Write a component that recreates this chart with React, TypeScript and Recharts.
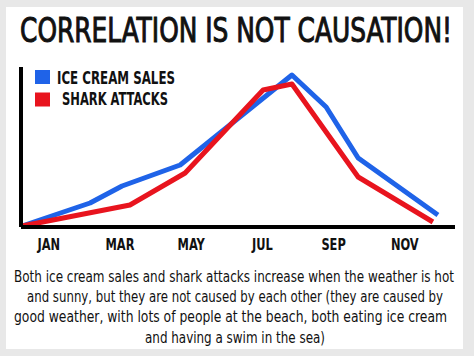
import React from 'react';
import { LineChart, Line, XAxis, YAxis, Legend } from 'recharts';

const monthNames = ['JAN', 'FEB', 'MAR', 'APR', 'MAY', 'JUN', 'JUL', 'AUG', 'SEP', 'OCT', 'NOV', 'DEC'];
const monthTicks = [1, 3, 5, 7, 9, 11];

const iceCreamMonth = [0.25, 2.16, 3.06, 4.69, 7.83, 8.79, 9.69, 11.93];
const iceCreamSales = [1, 24, 41, 62, 152, 120, 69, 12];

const sharkMonth = [0.25, 3.28, 4.83, 7.02, 7.83, 9.69, 11.79];
const sharkAttacks = [1, 22, 54, 137, 143, 50, 5];

const titleText = 'CORRELATION IS NOT CAUSATION!';
const captionLines = [
  'Both ice cream sales and shark attacks increase when the weather is hot',
  'and sunny, but they are not caused by each other (they are caused by',
  'good weather, with lots of people at the beach, both eating ice cream',
  'and having a swim in the sea)',
];

const iceData = iceCreamMonth.map((m, i) => ({ month: m, value: iceCreamSales[i] }));
const sharkData = sharkMonth.map((m, i) => ({ month: m, value: sharkAttacks[i] }));

const BLUE = '#1f63e8';
const RED = '#e8141e';
const CONDENSED = "'DejaVu Sans Condensed', 'Liberation Sans Narrow', sans-serif";

const captionX = [14, 27, 14, 145];
const captionW = [440, 416, 433, 180];
const legendTextX = [27, 32];
const legendTextW = [118, 106];

const MonthTick = (props: any) => {
  const { x, y, payload } = props;
  const label = monthNames[payload.value - 1];
  return (
    <g transform={`translate(${x} ${y + 15}) scale(1 1.3)`}>
      <text
        x={0}
        y={0}
        textAnchor="middle"
        fontFamily={CONDENSED}
        fontWeight="bold"
        fontSize={12.7}
        fill="#111"
      >
        {label}
      </text>
    </g>
  );
};

const renderLegend = (props: any) => {
  const { payload } = props;
  return (
    <svg width={200} height={45} style={{ display: 'block', overflow: 'visible' }}>
      {(payload || []).map((item: any, i: number) => (
        <g key={i}>
          <rect x={5} y={4 + i * 22.5} width={15} height={14} fill={item.color} />
          <g transform={`translate(${legendTextX[i]} ${17.5 + i * 21}) scale(1 1.385)`}>
            <text
              x={0}
              y={0}
              fontFamily={CONDENSED}
              fontWeight="bold"
              fontSize={13}
              fill="#111"
              textLength={legendTextW[i]}
              lengthAdjust="spacingAndGlyphs"
            >
              {item.value}
            </text>
          </g>
        </g>
      ))}
    </svg>
  );
};

export default function App() {
  return (
    <div style={{ position: 'absolute', left: 0, top: 0, width: 474, height: 356, background: '#e8e8e8', overflow: 'hidden' }}>
      <div style={{ position: 'absolute', left: 6, top: 7, width: 457, height: 342, background: '#ffffff' }} />
      <div style={{ position: 'absolute', left: 0, top: 0 }}>
        <LineChart width={474} height={356} margin={{ top: 67, right: 19, left: 20, bottom: 99 }}>
          <XAxis
            type="number"
            dataKey="month"
            domain={[0.22, 12.41]}
            ticks={monthTicks}
            allowDataOverflow
            height={30}
            tickLine={false}
            axisLine={{ stroke: '#000', strokeWidth: 4 }}
            tick={<MonthTick />}
            interval={0}
          />
          <YAxis
            type="number"
            dataKey="value"
            domain={[0, 160]}
            width={1}
            tick={false}
            tickLine={false}
            axisLine={{ stroke: '#000', strokeWidth: 4 }}
          />
          <Legend
            layout="horizontal"
            verticalAlign="middle"
            align="center"
            wrapperStyle={{ left: 30, top: 66, width: 200, height: 45 }}
            content={renderLegend}
          />
          <Line
            data={iceData}
            dataKey="value"
            name="ICE CREAM SALES"
            stroke={BLUE}
            strokeWidth={5}
            dot={false}
            strokeLinejoin="round"
            isAnimationActive={false}
          />
          <Line
            data={sharkData}
            dataKey="value"
            name="SHARK ATTACKS"
            stroke={RED}
            strokeWidth={5}
            dot={false}
            strokeLinejoin="round"
            isAnimationActive={false}
          />
        </LineChart>
      </div>
      <svg width={474} height={356} style={{ position: 'absolute', left: 0, top: 0, pointerEvents: 'none' }}>
        <g transform="translate(20 42) scale(1 1.24)">
          <text
            x={0}
            y={0}
            fontFamily={CONDENSED}
            fontSize={27.4}
            fill="#111"
            stroke="#111"
            strokeWidth={0.8}
            textLength={432}
            lengthAdjust="spacingAndGlyphs"
          >
            {titleText}
          </text>
        </g>
        {captionLines.map((line, i) => (
          <g key={i} transform={`translate(${captionX[i]} ${281.5 + i * 20.4}) scale(1 1.23)`}>
            <text
              x={0}
              y={0}
              fontFamily={CONDENSED}
              fontSize={13}
              fill="#111"
              textLength={captionW[i]}
              lengthAdjust="spacingAndGlyphs"
            >
              {line}
            </text>
          </g>
        ))}
      </svg>
    </div>
  );
}
